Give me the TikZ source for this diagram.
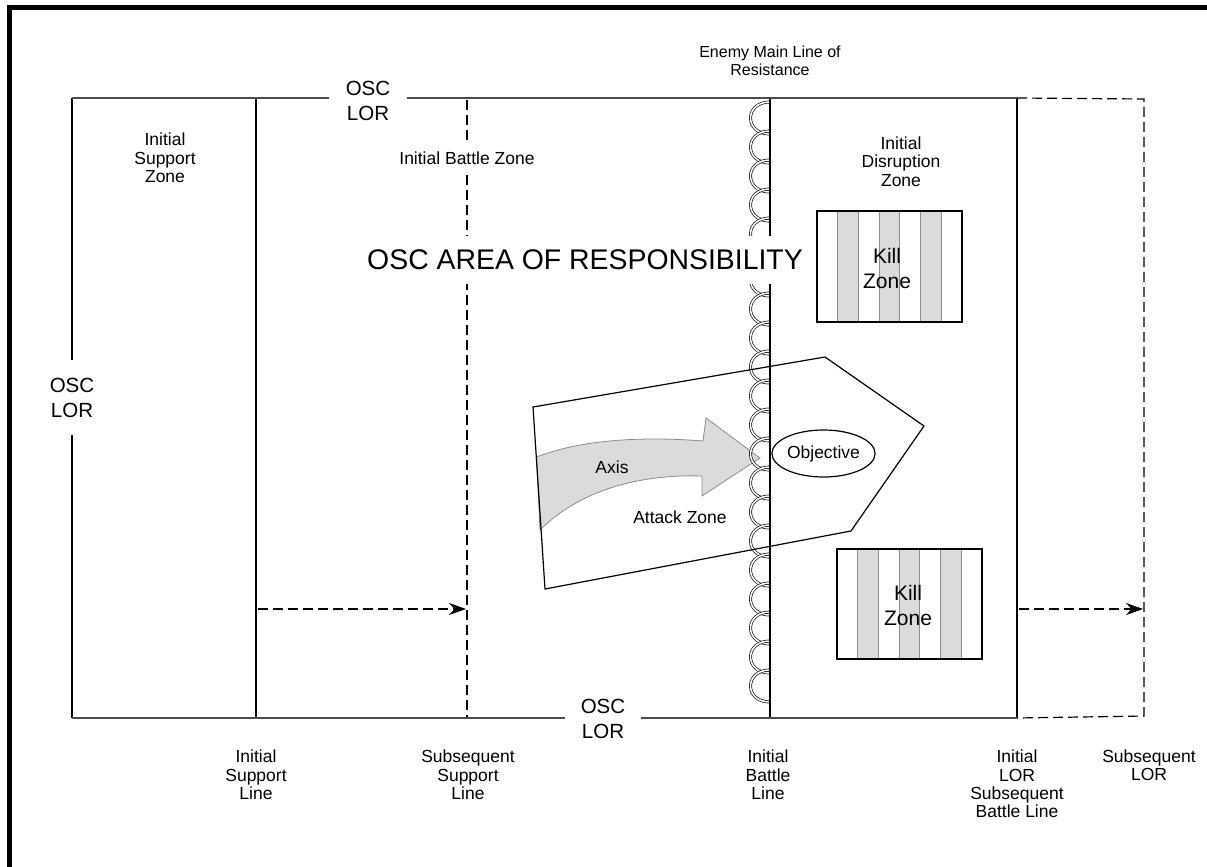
\documentclass[tikz,border=0pt]{standalone}
\usepackage{fontspec}
\setmainfont{Liberation Sans}
\usetikzlibrary{shapes.geometric,arrows.meta}
\begin{document}
\begin{tikzpicture}[x=1pt,y=-1pt,
  lbl/.style={font=\fontsize{17.5}{18.4}\selectfont, align=center, inner sep=0pt},
  smalllbl/.style={font=\fontsize{16}{17.5}\selectfont, align=center, inner sep=0pt},
  osclbl/.style={font=\fontsize{20.5}{25}\selectfont, align=center, fill=white, inner sep=0pt},
  killlbl/.style={font=\fontsize{21}{25}\selectfont, align=center, inner sep=0pt},
  frameline/.style={draw=black!70, line width=2pt},
  zline/.style={draw=black, line width=1.2pt},
  dline/.style={draw=black, line width=1.2pt, dash pattern=on 10pt off 5pt},
  wire/.style={draw=black, double=white, double distance=1.6pt, line width=0.65pt},
  stripe/.style={fill=black!14, draw=black!45, line width=0.8pt},
  axisarrow/.style={fill=black!14, draw=black!45, line width=0.8pt},
  advarrow/.style={-{Stealth[length=17pt,width=12pt]}}
]
\path[use as bounding box] (0,0) rectangle (1207,867);
% page border
\draw[line width=5pt] (9.5,867) -- (9.5,7.5) -- (1207,7.5);

% key coordinates
\coordinate (TL) at (72,98);
\coordinate (TR) at (1017,98);
\coordinate (BL) at (72,718);
\coordinate (BR) at (1017,718);
\coordinate (isT) at (256,98);
\coordinate (isB) at (256,718);
\coordinate (ssT) at (467,100);
\coordinate (ssB) at (467,717);
\coordinate (ibT) at (770,98);
\coordinate (ibB) at (770,718);
\coordinate (sTR) at (1144,99);
\coordinate (sBR) at (1144,716);

% zone lines
\draw[zline] (TL) -- (BL);
\draw[zline] (isT) -- (isB);
\draw[dline] (ssT) -- (ssB);
\draw[zline] (TR) -- (BR);
\draw[dline] (TR) -- (sTR) -- (sBR) -- (BR);

% advance arrows
\coordinate (a1s) at (258,609);
\coordinate (a1e) at (466,609);
\coordinate (a2s) at (1019,609);
\coordinate (a2e) at (1143,609);
\draw[dline, advarrow] (a1s) -- (a1e);
\draw[dline, advarrow] (a2s) -- (a2e);

% kill zones
\foreach \i in {1,3,5} {
  \filldraw[stripe] ({817+\i*20.714},211) rectangle ({817+(\i+1)*20.714},322);
  \filldraw[stripe] ({837+\i*20.714},549) rectangle ({837+(\i+1)*20.714},659);
}
\draw[line width=1.3pt] (817,211) rectangle (962,322);
\draw[line width=1.3pt] (837,549) rectangle (982,659);
\node[killlbl] (kz1) at (887,268) {Kill\\Zone};
\node[killlbl] (kz2) at (908,605.5) {Kill\\Zone};

% axis arrow
\filldraw[axisarrow] (536.5,457) .. controls (580,440) and (640,436) .. (703,441)
  -- (706,418) -- (760,458) -- (702,496) -- (702,476)
  .. controls (640,474) and (580,490) .. (540,530) -- cycle;

% enemy main line of resistance (wire loops)
\foreach \k in {0,...,4} {
  \pgfmathsetmacro{\ya}{102+29*\k}
  \pgfmathsetmacro{\yb}{\ya+32}
  \draw[wire] (770,\ya) .. controls (744,\ya) and (744,\yb) .. (770,\yb);
}
\foreach \k in {0,...,14} {
  \pgfmathsetmacro{\ya}{264+29*\k}
  \pgfmathsetmacro{\yb}{\ya+32}
  \draw[wire] (770,\ya) .. controls (744,\ya) and (744,\yb) .. (770,\yb);
}
\draw[zline] (ibT) -- (ibB);

% attack zone
\draw[zline] (533,407) -- (825,357) -- (924,426) -- (851,531) -- (545,589) -- cycle;
\node[draw, ellipse, line width=1.2pt, minimum width=85pt, minimum height=47pt, inner sep=0pt,
  font=\fontsize{17.5}{18}\selectfont] (obj) at (823.5,453.5) {Objective};
\node[lbl] (axis) at (612,467) {Axis};
\node[lbl] (atk) at (680,517) {Attack Zone};

% frame lines (OSC LOR)
\draw[frameline] (TL) -- (TR);
\draw[frameline] (BL) -- (BR);

% labels
\node[osclbl, minimum width=78pt] (lorTop) at (368,100.5) {OSC\\LOR};
\node[osclbl, minimum height=75pt] (lorLeft) at (72,397.5) {OSC\\LOR};
\node[osclbl, minimum width=76pt] (lorBot) at (603,718.5) {OSC\\LOR};
\node[fill=white, inner xsep=3pt, inner ysep=0pt, minimum height=48pt,
  font=\fontsize{28.4}{30}\selectfont] (aor) at (585,260) {OSC AREA OF RESPONSIBILITY};
\node[lbl, fill=white, minimum height=32pt, inner xsep=2pt] (ibz) at (467,158) {Initial Battle Zone};
\node[lbl] (isz) at (165,158) {Initial\\Support\\Zone};
\node[lbl] (idz) at (901,161.5) {Initial\\Disruption\\Zone};
\node[smalllbl] (emlr) at (770,61) {Enemy Main Line of\\Resistance};

\node[lbl] (isl) at (256,775) {Initial\\Support\\Line};
\node[lbl] (ssl) at (468,775) {Subsequent\\Support\\Line};
\node[lbl] (ibl) at (768,775) {Initial\\Battle\\Line};
\node[lbl] (ilor) at (1017,784) {Initial\\LOR\\Subsequent\\Battle Line};
\node[lbl] (slor) at (1149,765) {Subsequent\\LOR};
\end{tikzpicture}
\end{document}
